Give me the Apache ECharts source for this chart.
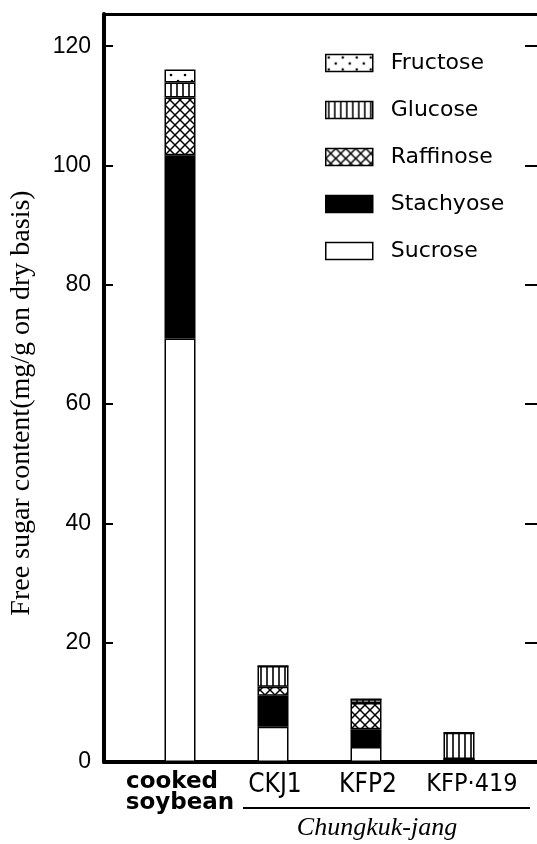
<!DOCTYPE html>
<html><head><meta charset="utf-8">
<script src="https://cdn.jsdelivr.net/npm/echarts@6/dist/echarts.min.js"></script>
<style>html,body{margin:0;padding:0;background:#fff}#c{width:537px;height:844px}</style>
</head><body><div id="c"></div>
<script>
// ---- data ----
const categories = ['cooked soybean', 'CKJ1', 'KFP2', 'KFP·419'];
const sucrose   = [71.0, 5.9, 2.5, 0.5];
const stachyose = [30.7, 5.2, 3.0, 0.0];
const raffinose = [9.7, 1.5, 4.4, 0.0];
const glucose   = [2.5, 3.5, 0.6, 4.4];
const fructose  = [2.2, 0.0, 0.0, 0.0];
const yTicks = [0, 20, 40, 60, 80, 100, 120];
const legendOrder = ['Fructose', 'Glucose', 'Raffinose', 'Stachyose', 'Sucrose'];
const yAxisTitle = 'Free sugar content(mg/g on dry basis)';
const groupLabel = 'Chungkuk-jang';

// ---- patterns ----
function makePattern(w, h, draw) {
  const c = document.createElement('canvas');
  c.width = w; c.height = h;
  const ctx = c.getContext('2d');
  ctx.fillStyle = '#fff'; ctx.fillRect(0, 0, w, h);
  ctx.fillStyle = '#000'; ctx.strokeStyle = '#000';
  draw(ctx);
  return { image: c, repeat: 'repeat' };
}
const dotPat = makePattern(14, 12, ctx => {
  ctx.beginPath(); ctx.arc(3, 3, 1.3, 0, Math.PI * 2); ctx.fill();
  ctx.beginPath(); ctx.arc(10, 9, 1.3, 0, Math.PI * 2); ctx.fill();
});
const vlinePat = makePattern(6, 6, ctx => {
  ctx.lineWidth = 1.6; ctx.beginPath(); ctx.moveTo(3, 0); ctx.lineTo(3, 6); ctx.stroke();
});
const crossPat = makePattern(10, 10, ctx => {
  ctx.lineWidth = 1.5;
  ctx.beginPath(); ctx.moveTo(0, 0); ctx.lineTo(10, 10); ctx.stroke();
  ctx.beginPath(); ctx.moveTo(10, 0); ctx.lineTo(0, 10); ctx.stroke();
});

const chart = echarts.init(document.getElementById('c'), null, { renderer: 'canvas' });
const YMAX = 125.4;
const GRID_LEFT = 104, GRID_RIGHT = 0, CHART_W = 537;
const PLOT_W = CHART_W - GRID_LEFT - GRID_RIGHT;
const border = { borderColor: '#000', borderWidth: 1.5 };
function bar(name, data, color) {
  return {
    name, type: 'bar', stack: 'sugar', data, xAxisIndex: 2, yAxisIndex: 4,
    barWidth: 31, itemStyle: Object.assign({ color }, border), emphasis: { disabled: true }
  };
}
const noLine = { show: false };
function tickOnlyAxis(position, len) {
  return { gridIndex: 0, type: 'value', position, offset: -PLOT_W, min: 0, max: YMAX, interval: 20,
    axisLine: { show: false, onZero: false },
    axisTick: { show: true, length: len, lineStyle: { color: '#000', width: 2 } },
    axisLabel: { show: false }, splitLine: { show: false } };
}

chart.setOption({
  animation: false,
  backgroundColor: '#fff',
  grid: [
    { left: GRID_LEFT, right: GRID_RIGHT, top: 14, bottom: 82 },
    { left: 133.5, right: 31.5, top: 14, bottom: 82 }
  ],
  legend: {
    orient: 'vertical', left: 325, top: 52, padding: 0,
    icon: 'rect',
    itemWidth: 47, itemHeight: 17, itemGap: 25,
    data: legendOrder,
    textStyle: { fontFamily: 'DejaVu Sans', fontSize: 22, color: '#000', padding: [0, 0, 0, 13] },
    itemStyle: { borderColor: '#000', borderWidth: 1.5 },
    selectedMode: false
  },
  xAxis: [
    { gridIndex: 0, type: 'value', position: 'bottom', min: 0, max: 1,
      axisLine: { show: true, onZero: false, lineStyle: { color: '#000', width: 4 } },
      axisTick: { show: false }, axisLabel: { show: false }, splitLine: { show: false } },
    { gridIndex: 0, type: 'value', position: 'top', min: 0, max: 1,
      axisLine: { show: true, onZero: false, lineStyle: { color: '#000', width: 3 } },
      axisTick: { show: false }, axisLabel: { show: false }, splitLine: { show: false } },
    { gridIndex: 1, type: 'category', data: categories, position: 'bottom',
      axisLine: { show: false }, axisTick: { show: false },
      axisLabel: {
        margin: 10, interval: 0, color: '#000',
        formatter: v => v === 'cooked soybean' ? '{a|cooked}{p|}\n{a|soybean}'
          : (v === 'KFP·419' ? '{c|' + v + '}' : '{b|' + v + '}'),
        rich: {
          a: { fontFamily: 'DejaVu Sans', fontWeight: 'bold', fontSize: 23, lineHeight: 21, color: '#000' },
          p: { width: 16 },
          b: { fontFamily: '"Liberation Sans Narrow", "DejaVu Sans Condensed", sans-serif', fontSize: 26, color: '#000', padding: [0, 0, 0, 4] },
          c: { fontFamily: '"Liberation Sans Narrow", "DejaVu Sans Condensed", sans-serif', fontSize: 25, color: '#000', padding: [0, 0, 0, 26] }
        }
      } }
  ],
  yAxis: [
    { gridIndex: 0, type: 'value', position: 'left', min: 0, max: YMAX, interval: 20,
      name: yAxisTitle, nameLocation: 'middle', nameGap: 68,
      nameTextStyle: { fontFamily: 'Liberation Serif', fontSize: 28, color: '#000', padding: [0, 30, 0, 0] },
      axisLine: { show: true, onZero: false, lineStyle: { color: '#000', width: 4 } },
      axisTick: { show: false },
      axisLabel: { margin: 13, fontFamily: 'Liberation Sans', fontSize: 23, color: '#000', showMaxLabel: false,
        formatter: v => yTicks.indexOf(v) >= 0 ? String(v) : '' },
      splitLine: { show: false } },
    // inward ticks on the left frame edge (a right-side axis shifted onto the left edge)
    tickOnlyAxis('right', 9),
    // inward ticks on the right frame edge (a left-side axis shifted onto the right edge)
    tickOnlyAxis('left', 12),
    { gridIndex: 0, type: 'value', position: 'right', min: 0, max: YMAX, show: false },
    { gridIndex: 1, type: 'value', min: 0, max: YMAX, show: false, splitLine: { show: false } }
  ],
  graphic: [
    { type: 'line', shape: { x1: 243, y1: 808, x2: 530, y2: 808 }, style: { stroke: '#000', lineWidth: 2 } },
    { type: 'text', x: 377, y: 828,
      style: { text: groupLabel, fill: '#000', font: 'italic 26px "Liberation Serif"', align: 'center', verticalAlign: 'middle' } }
  ],
  series: [
    bar('Sucrose', sucrose, '#fff'),
    bar('Stachyose', stachyose, '#000'),
    bar('Raffinose', raffinose, crossPat),
    bar('Glucose', glucose, vlinePat),
    bar('Fructose', fructose, dotPat)
  ]
});
</script>
</body></html>
